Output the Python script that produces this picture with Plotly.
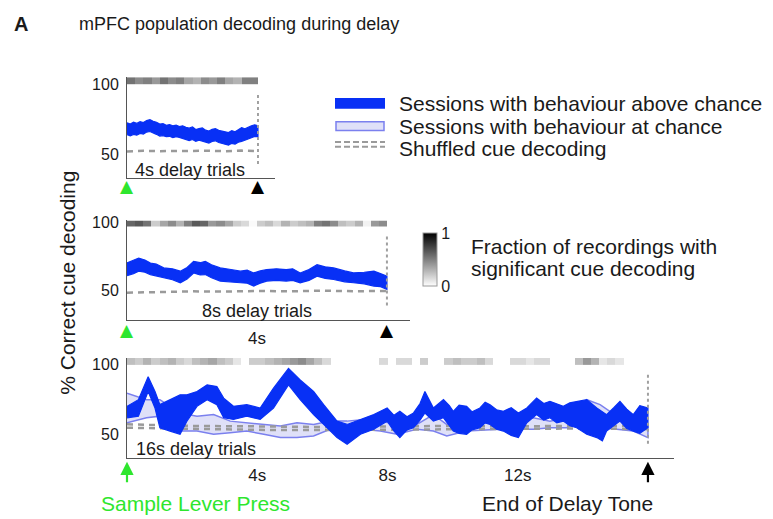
import plotly.graph_objects as go

W, H = 773, 519

# ---------------- data ----------------
delays = [4, 8, 16]

# 4 s delay trials: sessions with behaviour above chance (band)
t4 = [0.0, 0.1, 0.2, 0.3, 0.4, 0.5, 0.6, 0.7, 0.8, 0.9, 1.0, 1.1, 1.2, 1.3, 1.4, 1.5, 1.6, 1.7, 1.8, 1.9,
      2.0, 2.1, 2.2, 2.3, 2.4, 2.5, 2.6, 2.7, 2.8, 2.9, 3.0, 3.1, 3.2, 3.3, 3.4, 3.5, 3.6, 3.7, 3.8, 3.9, 4.0]
up4 = [72.5, 71.5, 72.8, 72, 73.2, 72.6, 74, 74.6, 73.5, 72.8, 71.5, 71.8, 70.6, 71.2, 70.2, 70.8, 69.7,
       70.3, 69.2, 68.6, 69.4, 67.6, 68.3, 68.8, 67.2, 66.5, 67.8, 68.2, 67, 66.4, 66.2, 65.5, 66.8, 66,
       67.5, 69, 68.2, 69.5, 70.2, 71, 70.4]
lo4 = [64, 63.2, 64.2, 63.6, 64.8, 64.4, 65.8, 66.2, 65, 64.2, 63, 63.3, 62.5, 62.8, 61.8, 62.5, 62,
       61.6, 60.6, 59.8, 60.5, 59.2, 60, 59.5, 58.5, 58, 59.2, 59.6, 58.4, 57.5, 57, 56.5, 57.8, 57.2,
       58.6, 59.2, 60, 60.6, 61.8, 62.7, 62.5]
t_sh4 = [0, 0.5, 1, 1.5, 2, 2.5, 3, 3.5, 4]
sh4 = [52, 52.5, 52.2, 52.4, 52.8, 52.5, 52.2, 52.6, 52.3]

# 8 s delay trials
t8 = [0, 0.2, 0.36, 0.55, 0.72, 0.9, 1.13, 1.4, 1.64, 1.85, 2.05, 2.25, 2.41, 2.6, 2.87, 3.2, 3.49, 3.7,
      3.9, 4.1, 4.3, 4.6, 4.9, 5.1, 5.33, 5.6, 5.85, 6.1, 6.36, 6.7, 6.97, 7.3, 7.6, 7.8, 8.0]
up8 = [70.3, 72, 73.9, 72.5, 70.3, 69.5, 66.7, 66, 64.3, 67, 71.5, 70.5, 71.5, 69, 66.7, 65.5, 64.3, 65,
       63, 64.5, 65.5, 66, 65.5, 66, 63, 65.5, 69, 67.5, 66.7, 64.5, 63, 63.5, 64.3, 62.5, 60.6]
lo8 = [60.9, 62.5, 64.3, 63.5, 61.8, 60.5, 59.4, 58, 55.8, 58.5, 63, 61.5, 61.8, 59.5, 57, 56.5, 55.8, 55.5,
       53.4, 55.5, 57, 57.5, 57, 57.5, 55.8, 57.5, 60.6, 59, 58.2, 56.5, 55.8, 55, 53.4, 53, 51]
t_sh8 = [0, 1, 2, 3, 4, 5, 6, 7, 8]
sh8 = [48.5, 49.2, 49.5, 49.3, 49.8, 49.5, 50, 49.6, 49.8]

# 16 s delay trials: above chance
t16a = [0, 0.35, 0.65, 0.86, 1.01, 1.32, 1.63, 1.84, 2.15, 2.46, 2.76, 2.97, 3.27, 3.68, 4.09, 4.5,
        4.96, 5.32, 5.73, 6.04, 6.45, 6.76, 7.17, 7.58, 7.99, 8.2, 8.38, 8.6, 8.8, 9.0, 9.15, 9.41, 9.72,
        9.9, 10.02, 10.2, 10.43, 10.6, 10.84, 11.0, 11.15, 11.35, 11.56, 11.8, 12.02, 12.28, 12.58, 12.8,
        12.99, 13.2, 13.4, 13.6, 13.81, 14.12, 14.43, 14.6, 14.73, 14.95, 15.14, 15.35, 15.55, 15.75, 16.0]
up16a = [70, 74.8, 91.4, 80.7, 71.2, 74.8, 78.3, 78.3, 80.7, 85.5, 84.3, 75.9, 70, 71.2, 68.8, 83.1,
         97.4, 89, 80.7, 71.2, 59.3, 56.9, 60.5, 64, 68.8, 63.5, 66.4, 62.5, 65.2, 72, 80.7, 68.8, 74.8,
         70.5, 66.4, 70.8, 70, 66, 68.8, 73, 71.2, 67.5, 66.4, 69, 65.2, 68.8, 75.9, 72, 73.6, 71.5, 70,
         72.5, 73.6, 74.8, 68.8, 66, 64, 69, 73.6, 68, 64, 70.5, 68.8]
lo16a = [61.7, 62.9, 80.7, 68.8, 54.5, 52.1, 49.8, 59.3, 70, 74.8, 71.2, 61.7, 60.5, 62.9, 60.5, 68.8,
         85.5, 74.8, 64, 56.9, 47.4, 42.6, 49.8, 53.4, 59.3, 52, 47.4, 53, 54.5, 60, 65.2, 59.3, 61.7,
         56, 52.1, 50.5, 49.8, 53, 54.5, 58, 56.9, 53.5, 52.1, 49, 47.4, 58.1, 64, 60, 61.7, 58, 59.3,
         56, 54.5, 49.8, 47.4, 45, 52.1, 56, 59.3, 54, 52.1, 50.5, 54.5]
# 16 s delay trials: at chance
t16c = [0, 0.6, 1.01, 1.63, 2.15, 2.66, 3.17, 3.68, 4.2, 4.71, 5.22, 5.73, 6.24, 6.76, 7.27,
        7.78, 8.29, 8.9, 9.41, 9.82, 10.43, 11.45, 12.48, 12.99, 13.5, 14.12, 14.53, 15.04, 15.55, 16.0]
up16c = [79.5, 74.8, 74.8, 65.2, 62.9, 64, 59.3, 58.1, 56.9, 55.7, 58.1, 56.9, 59.3, 59.3, 60.5,
         59.3, 56.9, 56.9, 64, 56.9, 58.1, 58.1, 61.7, 59.3, 61.7, 74.8, 71.2, 62.9, 59.3, 56.9]
lo16c = [58.1, 61.7, 62.9, 52.1, 52.1, 49.8, 50.9, 52.1, 49.8, 47.4, 47.4, 48.6, 53.4, 54.5, 53.4,
         52.1, 49.8, 53.4, 52.1, 48.6, 52.1, 53.4, 53.4, 54.5, 54.5, 59.3, 54.5, 53.4, 52.1, 47.4]
t_sh16 = [0, 2, 4, 6, 8, 10, 12, 14, 16]
sh16a = [57, 55.8, 55.5, 55, 55.5, 55.8, 55.5, 56, 55.5]
sh16b = [54.5, 53.5, 53, 52.8, 53.2, 53.5, 53.5, 54, 53.5]

# fraction of recordings with significant cue decoding (0.25 s bins)
strip4 = [0.55, 0.45, 0.5, 0.4, 0.55, 0.45, 0.5, 0.35, 0.3, 0.45, 0.4, 0.5, 0.35, 0.3, 0.5, 0.5]
strip8 = [0.6, 0.65, 0.55, 0.2, 0.35, 0.45, 0.3, 0.5, 0.65, 0.6, 0.4, 0.45, 0.35, 0.2, 0.15, 0.02,
          0.2, 0.25, 0.15, 0.3, 0.2, 0.25, 0.3, 0.5, 0.55, 0.45, 0.25, 0.2, 0.3, 0.05, 0.4, 0.45]
strip16 = [0.25, 0.2, 0.3, 0.2, 0.25, 0.3, 0.2, 0.15, 0.25, 0.3, 0.35, 0.25, 0.2, 0.1,
           0.0,
           0.2, 0.2, 0.25, 0.3, 0.35, 0.4, 0.45, 0.35, 0.25, 0.15,
           0, 0, 0, 0, 0, 0,
           0.15, 0, 0.15, 0.15, 0, 0.2, 0, 0,
           0.2, 0.25, 0.2, 0.2, 0.25, 0.15,
           0, 0, 0.15, 0.15, 0.1, 0.15, 0.15,
           0, 0, 0, 0.25, 0.4, 0.3, 0.1, 0.15, 0.1, 0, 0, 0]

x_ticks2 = [4]
x_ticktext2 = ["4s"]
x_ticks3 = [4, 8, 12]
x_ticktext3 = ["4s", "8s", "12s"]

# ---------------- style ----------------
FONT = "Liberation Sans, Arial, sans-serif"
TXT = "#1a1a1a"
BLUE = "#0830f5"
LIGHT_FILL = "#dfe0f8"
LIGHT_LINE = "#7b80ee"
GREY_DASH = "#9a9a9a"
GREEN = "#2ee62e"


def px(x):
    return x / W


def py(y):
    return 1 - y / H


fig = go.Figure()

panels = [
    dict(xa="x", ya="y", l=127, r=275, t=72, b=174, xr=[0, 4.52], yr=[33.1, 104.93], sy=102.45, sdy=4.9),
    dict(xa="x2", ya="y2", l=127, r=410, t=217, b=318, xr=[0, 8.71], yr=[28.26, 101.45], sy=99.3, sdy=4.3),
    dict(xa="x3", ya="y3", l=127, r=674, t=356, b=457, xr=[0, 16.8], yr=[32.86, 105.0], sy=102.5, sdy=5.0),
]
strips = [strip4, strip8, strip16]

for i, (p, s) in enumerate(zip(panels, strips)):
    hm = go.Heatmap(
        z=[s], x0=0.125, dx=0.25, y0=p["sy"], dy=p["sdy"],
        xaxis=p["xa"], yaxis=p["ya"],
        colorscale=[[0, "#ffffff"], [1, "#000000"]], zmin=0, zmax=1,
        showscale=(i == 0), hoverinfo="skip",
    )
    if i == 0:
        hm.colorbar = dict(
            x=px(423), xanchor="left", y=py(256.5), yanchor="middle",
            len=53, lenmode="pixels", thickness=14, thicknessmode="pixels",
            xpad=0, ypad=0, tickvals=[0, 1], ticktext=["0", "1"], ticks="",
            outlinewidth=1, outlinecolor="#999",
            tickfont=dict(family=FONT, size=16, color=TXT),
        )
    fig.add_trace(hm)


def band(t, up, lo, xa, ya, fill, line, lw):
    fig.add_trace(go.Scatter(
        x=t + t[::-1], y=up + lo[::-1], fill="toself", fillcolor=fill,
        line=dict(color=line, width=lw), mode="lines", xaxis=xa, yaxis=ya,
        hoverinfo="skip", showlegend=False,
    ))


def dashed(t, v, xa, ya):
    fig.add_trace(go.Scatter(
        x=t, y=v, mode="lines", line=dict(color=GREY_DASH, width=2.5, dash="6px,5px"),
        xaxis=xa, yaxis=ya, hoverinfo="skip", showlegend=False,
    ))


dashed(t_sh4, sh4, "x", "y")
band(t4, up4, lo4, "x", "y", BLUE, BLUE, 1.2)
dashed(t_sh8, sh8, "x2", "y2")
band(t8, up8, lo8, "x2", "y2", BLUE, BLUE, 1.2)
band(t16c, up16c, lo16c, "x3", "y3", LIGHT_FILL, LIGHT_LINE, 1.5)
dashed(t_sh16, sh16a, "x3", "y3")
dashed(t_sh16, sh16b, "x3", "y3")
band(t16a, up16a, lo16a, "x3", "y3", BLUE, BLUE, 1.2)

# dotted end-of-delay lines
dot_ext = [(93.7, 43.0), (90.6, 39.1), (95.0, 42.9)]
for p, d, (y1, y0) in zip(panels, delays, dot_ext):
    fig.add_trace(go.Scatter(
        x=[d, d], y=[y0, y1], mode="lines",
        line=dict(color="#a0a0a0", width=2, dash="dot"),
        xaxis=p["xa"], yaxis=p["ya"], hoverinfo="skip", showlegend=False,
    ))

layout = dict(
    width=W, height=H, margin=dict(l=0, r=0, t=0, b=0),
    paper_bgcolor="white", plot_bgcolor="white", showlegend=False,
    font=dict(family=FONT, color=TXT),
)
for i, p in enumerate(panels):
    sfx = "" if i == 0 else str(i + 1)
    xt = [[], x_ticks2, x_ticks3][i]
    xtt = [[], x_ticktext2, x_ticktext3][i]
    layout["xaxis" + sfx] = dict(
        domain=[px(p["l"]), px(p["r"])], range=p["xr"], anchor="y" + sfx,
        showline=True, linecolor="#555", linewidth=1, showgrid=False, zeroline=False,
        tickvals=xt, ticktext=xtt, ticks="", ticklabelstandoff=2,
        tickfont=dict(family=FONT, size=17, color=TXT), fixedrange=True,
    )
    layout["yaxis" + sfx] = dict(
        domain=[py(p["b"]), py(p["t"])], range=p["yr"], anchor="x" + sfx,
        showline=True, linecolor="#555", linewidth=1, showgrid=False, zeroline=False,
        tickvals=[50, 100], ticks="", ticklabelstandoff=4, layer="below traces",
        tickfont=dict(family=FONT, size=16, color=TXT), fixedrange=True,
    )
fig.update_layout(**layout)

# event triangles below the 4 s and 8 s panels
tri_dom = [-0.075, -0.095]
for p, d, yd in zip(panels[:2], delays[:2], tri_dom):
    for xv, c in [(0, GREEN), (d, "#000000")]:
        fig.add_annotation(x=xv, y=yd, xref=p["xa"], yref=p["ya"] + " domain", text="\u25B2",
                           showarrow=False, xanchor="center", yanchor="middle",
                           font=dict(family="DejaVu Sans", size=17, color=c))

# event arrows below the 16 s panel
for xv, c in [(0, GREEN), (delays[2], "#000000")]:
    fig.add_annotation(x=xv, y=-0.04, xref="x3", yref="y3 domain", ax=0, ay=22, text="",
                       showarrow=True, arrowhead=2, arrowsize=1.2, arrowwidth=2.2, arrowcolor=c)

ann = [
    dict(text="<b>A</b>", x=12, y=18, xa="left", size=20, color=TXT),
    dict(text="mPFC population decoding during delay", x=77, y=18, xa="left", size=18, color=TXT),
    dict(text="4s delay trials", x=190, y=166, xa="center", size=18, color=TXT),
    dict(text="8s delay trials", x=257, y=309, xa="center", size=18, color=TXT),
    dict(text="16s delay trials", x=134, y=448, xa="left", size=18, color=TXT),
    dict(text="Sample Lever Press", x=99, y=503, xa="left", size=21, color=GREEN),
    dict(text="End of Delay Tone", x=480, y=503, xa="left", size=21, color=TXT),
    dict(text="Sessions with behaviour above chance", x=397, y=99, xa="left", size=21, color=TXT),
    dict(text="Sessions with behaviour at chance", x=397, y=122, xa="left", size=21, color=TXT),
    dict(text="Shuffled cue decoding", x=397, y=144, xa="left", size=21, color=TXT),
    dict(text="Fraction of recordings with", x=469, y=243, xa="left", size=21, color=TXT),
    dict(text="significant cue decoding", x=469, y=266, xa="left", size=21, color=TXT),
]
for a in ann:
    fig.add_annotation(text=a["text"], x=px(a["x"]), y=py(a["y"]), xref="paper", yref="paper",
                       xanchor=a["xa"], yanchor="middle", showarrow=False,
                       font=dict(family=FONT, size=a["size"], color=a["color"]))
fig.add_annotation(text="% Correct cue decoding", x=px(68), y=py(280), xref="paper", yref="paper",
                   textangle=-90, showarrow=False, xanchor="center", yanchor="middle",
                   font=dict(family=FONT, size=21, color=TXT))

# legend glyphs
fig.add_shape(type="rect", xref="paper", yref="paper", x0=px(335), x1=px(385), y0=py(104), y1=py(93),
              fillcolor=BLUE, line=dict(width=0))
fig.add_shape(type="rect", xref="paper", yref="paper", x0=px(336), x1=px(384), y0=py(126), y1=py(117),
              fillcolor=LIGHT_FILL, line=dict(color=LIGHT_LINE, width=1.5))
for yy in (137.5, 142.5):
    fig.add_shape(type="line", xref="paper", yref="paper", x0=px(335), x1=px(385), y0=py(yy), y1=py(yy),
                  line=dict(color=GREY_DASH, width=2, dash="6px,3px"))

fig.write_html("out.html")
